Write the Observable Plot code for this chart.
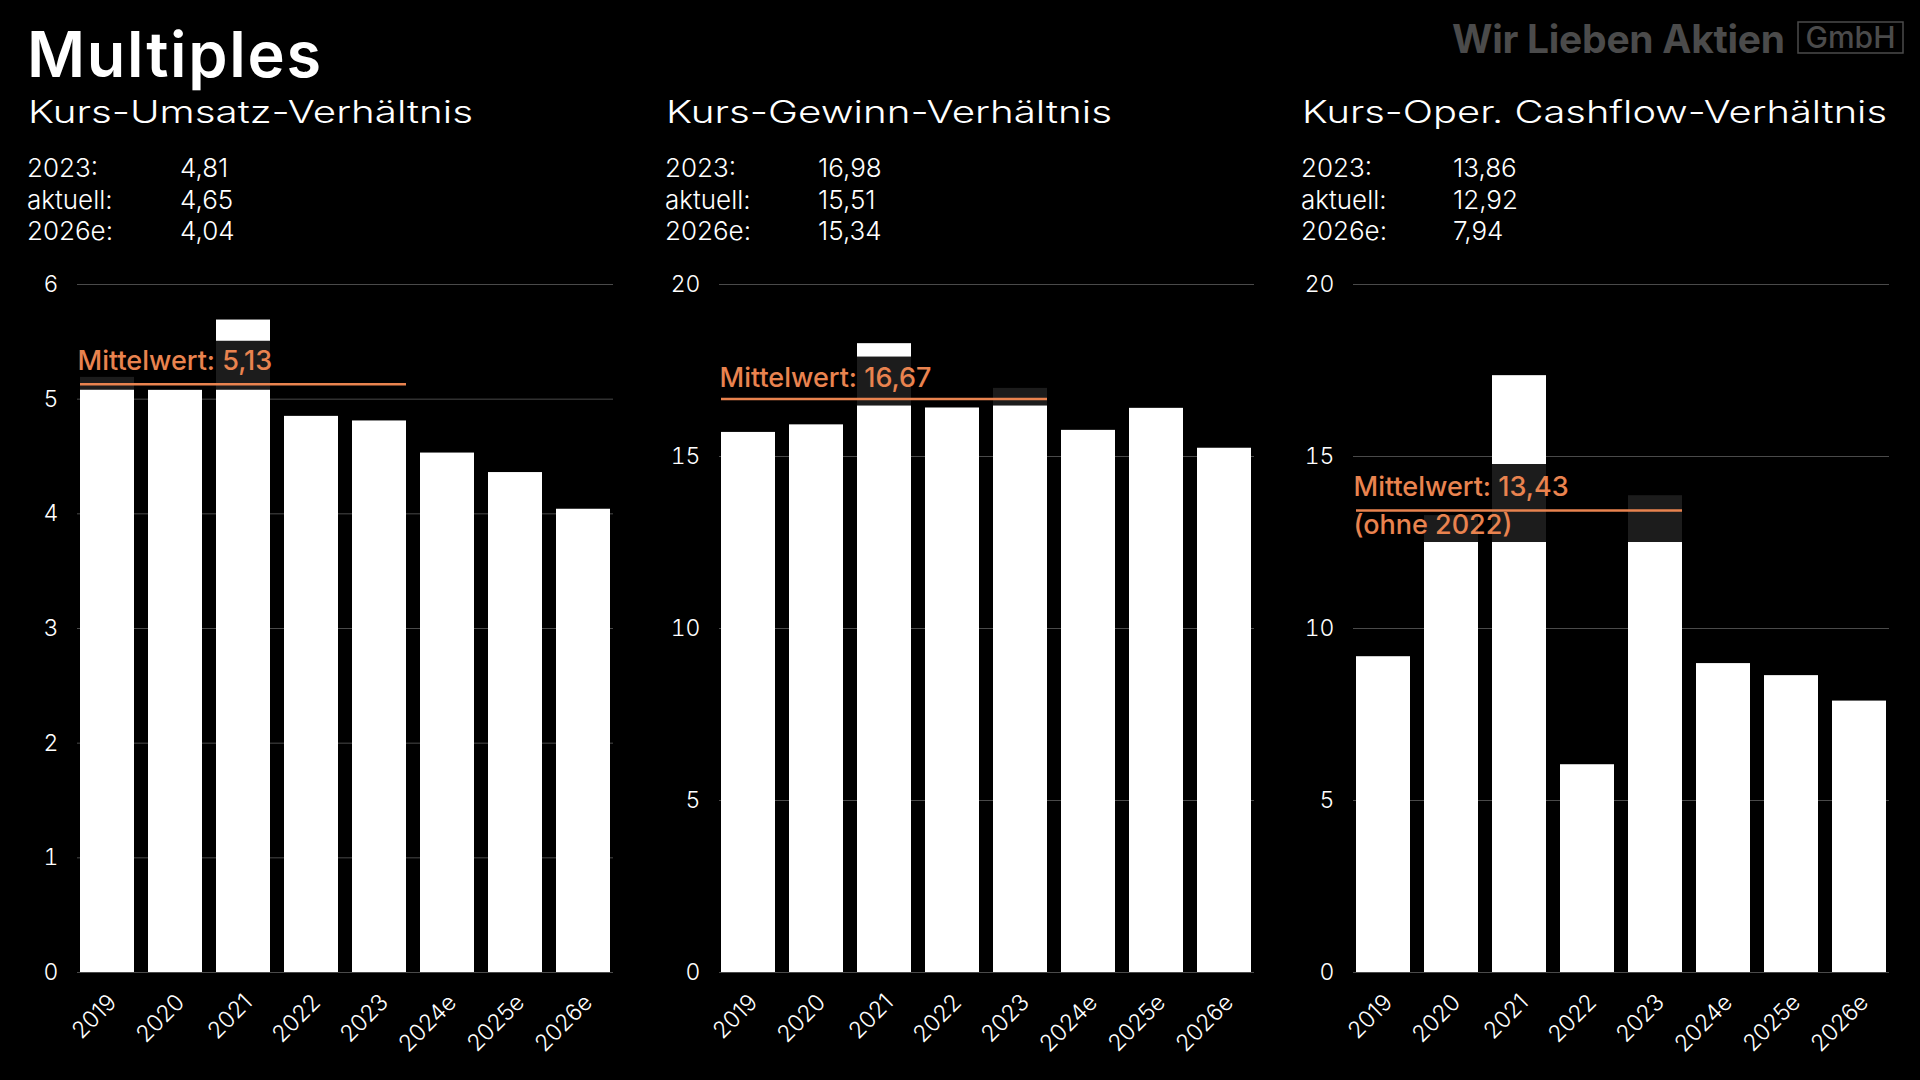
<!DOCTYPE html>
<html>
<head>
<meta charset="utf-8">
<script src="https://cdn.jsdelivr.net/npm/d3@7"></script>
<script src="https://cdn.jsdelivr.net/npm/@observablehq/plot@0.6"></script>
<style>
  html, body { margin: 0; padding: 0; background: #000; }
  #root { position: relative; width: 1920px; height: 1080px; background: #000; overflow: hidden; }
  #root svg { font-family: Inter, "Open Sans", sans-serif; }
  .panel { position: absolute; top: 250px; }
  .hdr { position: absolute; left: 0; top: 0; }
</style>
</head>
<body>
<div id="root"></div>
<script>
// ---------- data ----------
const years = ["2019", "2020", "2021", "2022", "2023", "2024e", "2025e", "2026e"];
const kuv = [5.19, 5.08, 5.69, 4.85, 4.81, 4.53, 4.36, 4.04];
const kgv = [15.70, 15.92, 18.28, 16.41, 16.98, 15.76, 16.40, 15.24];
const kcv = [9.18, 13.28, 17.35, 6.04, 13.86, 8.98, 8.63, 7.89];

const titles = ["Kurs-Umsatz-Verhältnis", "Kurs-Gewinn-Verhältnis", "Kurs-Oper. Cashflow-Verhältnis"];
const statLabels = ["2023:", "aktuell:", "2026e:"];
const statValues = [["4,81", "4,65", "4,04"], ["16,98", "15,51", "15,34"], ["13,86", "12,92", "7,94"]];
const means = [5.13, 16.67, 13.43];
const meanLabels = [["Mittelwert: 5,13"], ["Mittelwert: 16,67"], ["Mittelwert: 13,43", "(ohne 2022)"]];
const meanYears = ["2019", "2023"];
const boxYears = ["2019", "2020", "2021", "2022", "2023"];
const yTicks = [[0, 1, 2, 3, 4, 5, 6], [0, 5, 10, 15, 20], [0, 5, 10, 15, 20]];
const yMax = [6, 20, 20];

// ---------- layout ----------
const ORANGE = "#e9834f";
const FONT = 'Inter, "Open Sans", sans-serif';
const root = document.getElementById("root");

// header (title, subtitles, stats, logo)
const hdr = d3.select(root).append("svg").attr("class", "hdr").attr("width", 1920).attr("height", 250);
hdr.append("text").attr("x", 27).attr("y", 77).attr("fill", "#fff")
  .attr("font-size", 63).attr("font-weight", 600)
  .attr("textLength", 294).attr("lengthAdjust", "spacing").text("Multiples");

const hx = [28, 666, 1302];
const vx = [180, 818, 1453];
const subW = [445, 446, 585];
titles.forEach((t, i) => {
  hdr.append("text").attr("x", hx[i]).attr("y", 123).attr("fill", "#fff")
    .attr("font-size", 31).attr("font-weight", 300)
    .attr("textLength", subW[i]).attr("lengthAdjust", "spacingAndGlyphs").text(t);
  statLabels.forEach((l, j) => {
    const y = 177 + j * 31.5;
    hdr.append("text").attr("x", hx[i] - 1).attr("y", y).attr("fill", "#fff")
      .attr("font-size", 26).attr("font-weight", 300).text(l);
    hdr.append("text").attr("x", vx[i]).attr("y", y).attr("fill", "#fff")
      .attr("font-size", 26).attr("font-weight", 300).text(statValues[i][j]);
  });
});
// logo
hdr.append("text").attr("x", 1452).attr("y", 53).attr("fill", "#4b4b4b")
  .attr("font-size", 39).attr("font-weight", 700)
  .attr("textLength", 333).attr("lengthAdjust", "spacing").text("Wir Lieben Aktien");
hdr.append("rect").attr("x", 1798).attr("y", 22).attr("width", 105).attr("height", 31)
  .attr("fill", "none").attr("stroke", "#4b4b4b").attr("stroke-width", 1.5);
hdr.append("text").attr("x", 1850.5).attr("y", 48).attr("fill", "#4b4b4b").attr("text-anchor", "middle")
  .attr("font-size", 30).attr("font-weight", 500).text("GmbH");

// ---------- panels ----------
const series = [kuv, kgv, kcv];
const panelLeft = [0, 640, 1280];
const mLeft = [77, 79, 73];
const mRight = [27, 26, 31];
const boxInset = [[-43, -6], [-42, -7], [-46, -32]];
const labDy = [-14, -12, -15];

series.forEach((vals, i) => {
  const rows = years.map((year, k) => ({year, value: vals[k]}));
  const boxRows = boxYears.map(year => ({year, v: means[i]}));
  const labs = meanLabels[i];
  const marks = [
    Plot.gridY(yTicks[i], {stroke: "#4a4a4a", strokeOpacity: 1, strokeWidth: 1}),
    Plot.barY(rows, {x: "year", y: "value", fill: "#fff"}),
    Plot.barY(boxRows, {x: "year", y1: "v", y2: "v", insetTop: boxInset[i][0], insetBottom: boxInset[i][1],
      insetLeft: -8, insetRight: -8, fill: "#000", fillOpacity: 0.89}),
    Plot.ruleY([means[i]], {x1: () => meanYears[0], x2: () => meanYears[1], y: d => d, stroke: ORANGE, strokeWidth: 2.5}),
    Plot.text([labs[0]], {y: () => means[i], text: d => d, frameAnchor: "left", textAnchor: "start",
      lineAnchor: "bottom", dy: labDy[i], fill: ORANGE, fontSize: 27, fontWeight: 500})
  ];
  if (labs.length > 1) {
    marks.push(Plot.text([labs[1]], {y: () => means[i], text: d => d, frameAnchor: "left", textAnchor: "start",
      lineAnchor: "top", dy: 4, fill: ORANGE, fontSize: 27, fontWeight: 500}));
  }
  marks.push(
    Plot.axisY({ticks: yTicks[i], tickFormat: d3.format("d"), tickSize: 0, tickPadding: 19, fontSize: 23, fontWeight: 300, fill: "#fff"}),
    Plot.axisX({tickSize: 0, tickRotate: -45, tickPadding: 26, dx: 5, fontSize: 23, fontWeight: 300, fill: "#fff"})
  );
  const chart = Plot.plot({
    width: 640,
    height: 830,
    marginLeft: mLeft[i],
    marginRight: mRight[i],
    marginTop: 34,
    marginBottom: 108,
    x: {domain: years, paddingInner: 0.2, paddingOuter: 0, label: null},
    y: {domain: [0, yMax[i]], label: null},
    style: {background: "transparent", color: "#fff", fontFamily: FONT, fontSize: "22px", overflow: "visible"},
    marks
  });
  const div = document.createElement("div");
  div.className = "panel";
  div.style.left = panelLeft[i] + "px";
  div.appendChild(chart);
  root.appendChild(div);
});
</script>
</body>
</html>
